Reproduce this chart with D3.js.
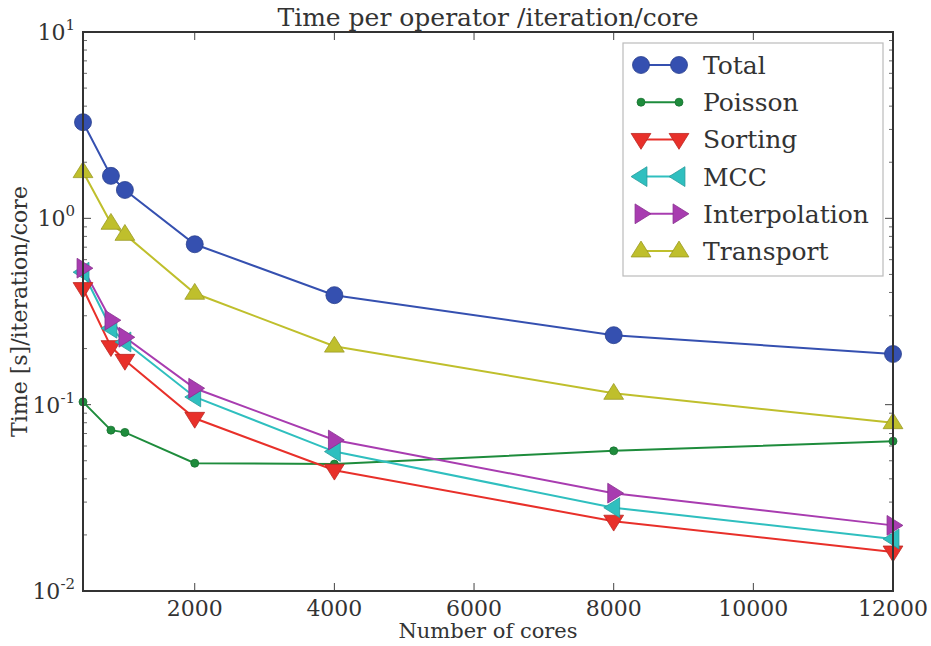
<!DOCTYPE html>
<html>
<head>
<meta charset="utf-8">
<script src="https://cdn.jsdelivr.net/npm/d3@7"></script>
<style>
  body { margin: 0; background: #fff; overflow: hidden; }
  svg { display: block; }
  svg text { font-family: "DejaVu Serif", serif; fill: #333; }
</style>
</head>
<body>
<div id="chart"></div>
<script>
const cores = [400, 800, 1000, 2000, 4000, 8000, 12000];
const total = [3.28, 1.69, 1.42, 0.726, 0.387, 0.236, 0.187];
const poisson = [0.1035, 0.073, 0.071, 0.0485, 0.048, 0.0565, 0.0637];
const sorting = [0.42, 0.205, 0.173, 0.0845, 0.0445, 0.0237, 0.0162];
const mcc = [0.514, 0.257, 0.217, 0.110, 0.056, 0.028, 0.019];
const interpolation = [0.54, 0.284, 0.23, 0.1225, 0.0646, 0.0335, 0.0225];
const transport = [1.78, 0.94, 0.82, 0.396, 0.206, 0.115, 0.080];
const xTicks = [2000, 4000, 6000, 8000, 10000, 12000];
const yTicks = [-2, -1, 0, 1];

const series = [
  { name: "Total", values: total, color: "#3550b0", marker: "circle", r: 8.5 },
  { name: "Poisson", values: poisson, color: "#1e8c3c", marker: "dot", r: 4 },
  { name: "Sorting", values: sorting, color: "#e8302a", marker: "down", r: 9 },
  { name: "MCC", values: mcc, color: "#2fbfbf", marker: "left", r: 9 },
  { name: "Interpolation", values: interpolation, color: "#a83cb0", marker: "right", r: 9 },
  { name: "Transport", values: transport, color: "#bfbf2c", marker: "up", r: 9 }
];

const width = 931, height = 646;
const margin = { top: 32, right: 38, bottom: 55, left: 83 };
const innerWidth = width - margin.left - margin.right;
const innerHeight = height - margin.top - margin.bottom;

const svg = d3.select("#chart").append("svg")
  .attr("width", width)
  .attr("height", height);

const g = svg.append("g")
  .attr("transform", `translate(${margin.left},${margin.top})`);

const x = d3.scaleLinear().domain([400, 12000]).range([0, innerWidth]);
const y = d3.scaleLog().domain([0.01, 10]).range([innerHeight, 0]);

// markers
function markerPath(type, r) {
  const h = r * 1.1;
  if (type === "down") return `M${-h},${-h * 0.6}L${h},${-h * 0.6}L0,${h}Z`;
  if (type === "up") return `M${-h},${h * 0.6}L${h},${h * 0.6}L0,${-h}Z`;
  if (type === "left") return `M${h * 0.6},${-h}L${h * 0.6},${h}L${-h},0Z`;
  if (type === "right") return `M${-h * 0.6},${-h}L${-h * 0.6},${h}L${h},0Z`;
  return d3.symbol().type(d3.symbolCircle).size(Math.PI * r * r)();
}

// Ticks (inward, all sides)
const minor = [];
for (let e = -2; e < 1; e++) for (let m = 2; m <= 9; m++) minor.push(m * Math.pow(10, e));

const ticks = g.append("g").attr("stroke", "#444");
yTicks.forEach(e => {
  const yy = y(Math.pow(10, e));
  ticks.append("line").attr("x1", 0).attr("x2", 8).attr("y1", yy).attr("y2", yy).attr("stroke-width", 1);
  ticks.append("line").attr("x1", innerWidth - 8).attr("x2", innerWidth).attr("y1", yy).attr("y2", yy).attr("stroke-width", 1);
});
minor.forEach(v => {
  const yy = y(v);
  ticks.append("line").attr("x1", 0).attr("x2", 4).attr("y1", yy).attr("y2", yy).attr("stroke-width", 0.8);
  ticks.append("line").attr("x1", innerWidth - 4).attr("x2", innerWidth).attr("y1", yy).attr("y2", yy).attr("stroke-width", 0.8);
});
xTicks.forEach(v => {
  const xx = x(v);
  ticks.append("line").attr("x1", xx).attr("x2", xx).attr("y1", innerHeight).attr("y2", innerHeight - 8).attr("stroke-width", 1);
  ticks.append("line").attr("x1", xx).attr("x2", xx).attr("y1", 0).attr("y2", 8).attr("stroke-width", 1);
});

// Tick labels
xTicks.forEach(v => {
  g.append("text")
    .attr("x", x(v)).attr("y", innerHeight + 25)
    .attr("text-anchor", "middle")
    .style("font-size", "22px")
    .text(v);
});
yTicks.forEach(e => {
  const t = g.append("text")
    .attr("x", -8).attr("y", y(Math.pow(10, e)) + 8)
    .attr("text-anchor", "end")
    .style("font-size", "22px");
  t.append("tspan").text("10");
  t.append("tspan").attr("dy", -10).style("font-size", "15px").text(e);
});

// Lines and markers
const line = d3.line().x((d, i) => x(cores[i])).y(d => y(d));

series.forEach(s => {
  g.append("path")
    .datum(s.values)
    .attr("fill", "none")
    .attr("stroke", s.color)
    .attr("stroke-width", 2)
    .attr("d", line);
});
series.forEach(s => {
  g.selectAll(null)
    .data(s.values)
    .enter()
    .append("path")
    .attr("d", markerPath(s.marker, s.r))
    .attr("transform", (d, i) => `translate(${x(cores[i])},${y(d)})`)
    .attr("fill", s.color)
    .attr("stroke", d3.color(s.color).darker(0.6))
    .attr("stroke-width", 0.8);
});

// Frame
g.append("rect")
  .attr("width", innerWidth).attr("height", innerHeight)
  .attr("fill", "none")
  .attr("stroke", "#333")
  .attr("stroke-width", 2);

// Legend
const legend = svg.append("g").attr("transform", "translate(623,43)");
legend.append("rect")
  .attr("width", 260).attr("height", 233)
  .attr("fill", "#fff")
  .attr("stroke", "#bbb")
  .attr("stroke-width", 1.2);
series.forEach((s, i) => {
  const item = legend.append("g").attr("transform", `translate(0,${22 + i * 37.2})`);
  item.append("line")
    .attr("x1", 18).attr("x2", 56)
    .attr("stroke", s.color).attr("stroke-width", 2);
  [18, 56].forEach(px => {
    item.append("path")
      .attr("d", markerPath(s.marker, s.r))
      .attr("transform", `translate(${px},0)`)
      .attr("fill", s.color)
      .attr("stroke", d3.color(s.color).darker(0.6))
      .attr("stroke-width", 0.8);
  });
  item.append("text")
    .attr("x", 80).attr("y", 9)
    .style("font-size", "25px")
    .text(s.name);
});

// Title and axis labels
svg.append("text")
  .attr("x", margin.left + innerWidth / 2).attr("y", 26)
  .attr("text-anchor", "middle")
  .style("font-size", "25px")
  .text("Time per operator /iteration/core");

svg.append("text")
  .attr("x", margin.left + innerWidth / 2).attr("y", 638)
  .attr("text-anchor", "middle")
  .style("font-size", "21px")
  .text("Number of cores");

svg.append("text")
  .attr("transform", `translate(27,${margin.top + innerHeight / 2}) rotate(-90)`)
  .attr("text-anchor", "middle")
  .style("font-size", "22px")
  .text("Time [s]/iteration/core");
</script>
</body>
</html>
